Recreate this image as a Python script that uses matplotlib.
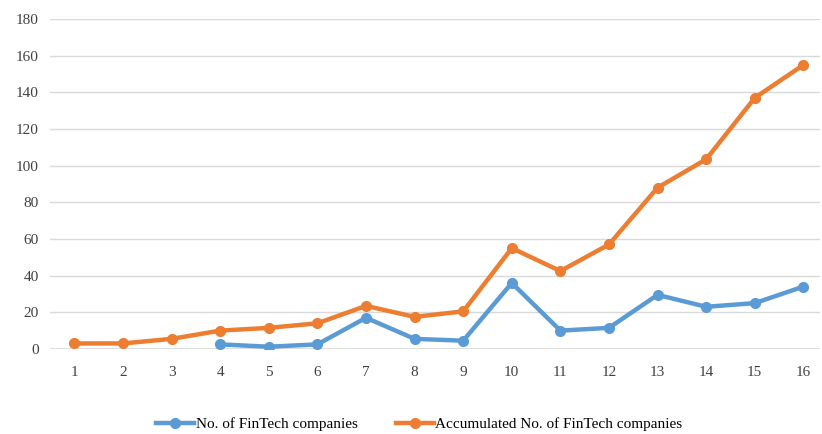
import matplotlib.pyplot as plt
import numpy as np

# values
periods = list(range(1, 17))
fintech_x = list(range(4, 17))
fintech_counts = [2.5, 1.2, 2.5, 17, 5.5, 4.5, 36, 10, 11.5, 29.5, 23, 25, 34]
accumulated = [3, 3, 5.5, 10, 11.5, 14, 23.5, 17.5, 20.5, 55, 42.5, 57, 88, 103.5, 137, 155]
y_ticks = list(range(0, 181, 20))

blue = '#5B9BD5'
orange = '#ED7D31'

plt.rcParams['font.family'] = ['Liberation Serif', 'DejaVu Serif']

fig = plt.figure(figsize=(8.22, 4.34), dpi=100)
ax = fig.add_axes([0.061, 0.196, 0.937, 0.760])

ax.plot(fintech_x, fintech_counts, color=blue, linewidth=3.2, marker='o',
        markersize=7, label='No. of FinTech companies', zorder=3)
ax.plot(periods, accumulated, color=orange, linewidth=3.2, marker='o',
        markersize=7, label='Accumulated No. of FinTech companies', zorder=2)

ax.set_ylim(0, 180)
ax.set_xlim(0.5, 16.35)
ax.set_yticks(y_ticks)
ax.set_xticks(periods)
ax.grid(axis='y', color='#d9d9d9', linewidth=1)
ax.axhline(0, color='#d9d9d9', linewidth=1.2, zorder=1)
ax.set_axisbelow(True)
for s in ax.spines.values():
    s.set_visible(False)
ax.tick_params(axis='y', length=0, labelsize=11, colors='#404040', pad=8)
ax.tick_params(axis='x', length=0, labelsize=11, colors='#404040', pad=12)

fig.legend(loc='lower center', bbox_to_anchor=(0.51, -0.025), ncol=2,
           frameon=False, fontsize=11, handlelength=2.5, columnspacing=2.5,
           handletextpad=0.1)

fig.savefig('out.png', dpi=100, facecolor='white')
